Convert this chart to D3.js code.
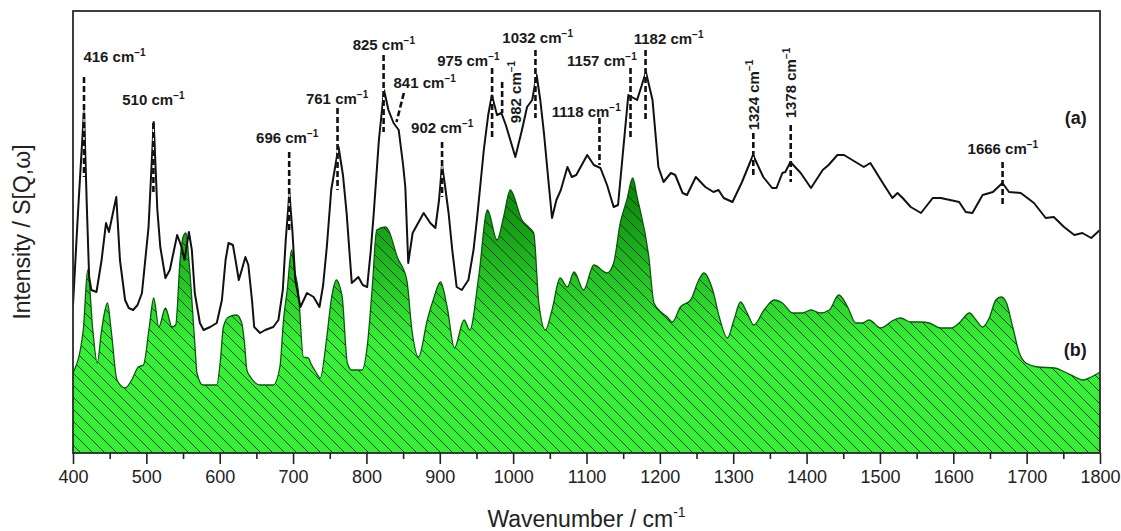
<!DOCTYPE html>
<html>
<head>
<meta charset="utf-8">
<script src="https://cdn.jsdelivr.net/npm/d3@7"></script>
<style>
  html, body { margin: 0; padding: 0; background: #fff; }
  svg { display: block; }
  text { font-family: "Liberation Sans", Arial, sans-serif; }
</style>
</head>
<body>
<svg id="chart" width="1121" height="531"></svg>
<script>
// ---------- DATA ----------
// Spectrum (a): wavenumber (cm-1) and intensity (a.u.)
const specAWn = [400,407,415,419,422,425,432,439,445,449,459,464,471,476,482,488,494,503,510,515,519,526,532,542,548,552,558,562,566,573,578,587,596,603,608,612,618,622,626,630,635,639,644,647,655,662,673,680,686,690,695,699,703,710,719,728,736,741,746,752,762,768,773,780,789,795,801,806,810,817,824,830,837,844,850,853,857,863,878,887,894,899,903,907,912,917,923,930,939,946,951,960,966,971,978,984,990,1003,1012,1019,1026,1032,1037,1042,1048,1053,1059,1065,1074,1080,1086,1101,1110,1119,1128,1137,1143,1150,1157,1169,1181,1190,1198,1205,1215,1221,1231,1237,1249,1262,1273,1280,1287,1299,1312,1327,1341,1353,1359,1367,1371,1378,1392,1406,1422,1430,1442,1451,1478,1487,1503,1517,1524,1531,1542,1556,1572,1583,1608,1617,1626,1640,1654,1667,1676,1692,1710,1726,1737,1751,1765,1776,1788,1800];
const specAInt = [1.48,2.43,3.43,2.43,1.76,1.63,1.61,1.93,2.30,2.21,2.56,1.93,1.53,1.45,1.43,1.48,1.60,2.26,3.31,2.43,2.06,1.75,1.83,2.18,2.06,1.93,2.21,2.03,1.60,1.30,1.23,1.26,1.30,1.53,1.93,2.10,2.08,1.91,1.73,1.83,1.96,1.88,1.53,1.26,1.20,1.23,1.26,1.33,1.63,2.13,2.60,2.23,1.73,1.46,1.60,1.56,1.46,1.68,2.06,2.63,3.06,2.78,2.40,1.70,1.76,1.68,1.66,2.03,2.40,3.13,3.63,3.43,3.30,3.23,2.88,2.66,1.90,2.20,2.40,2.30,2.25,2.53,2.88,2.68,2.40,2.03,1.66,1.63,1.73,2.03,2.36,3.03,3.38,3.58,3.38,3.40,3.28,2.96,3.23,3.46,3.53,3.78,3.53,3.20,2.73,2.35,2.53,2.63,2.86,2.76,2.78,2.98,2.88,2.85,2.68,2.46,2.48,3.03,3.58,3.53,3.81,3.53,2.86,2.71,2.80,2.78,2.60,2.58,2.76,2.66,2.61,2.63,2.55,2.51,2.71,2.98,2.76,2.65,2.65,2.80,2.81,2.91,2.80,2.65,2.83,2.88,2.98,2.98,2.86,2.90,2.71,2.55,2.60,2.55,2.46,2.40,2.55,2.55,2.51,2.41,2.40,2.58,2.61,2.70,2.61,2.60,2.50,2.35,2.36,2.26,2.18,2.20,2.15,2.23];

// Spectrum (b): wavenumber (cm-1) and intensity (a.u.)
const specBWn = [400,414,420,427,433,439,447,452,460,471,480,489,496,504,510,517,526,535,540,546,550,554,558,566,569,577,596,601,605,612,623,630,634,637,642,655,673,682,687,692,698,702,707,714,721,724,731,737,746,752,759,763,767,774,780,794,801,808,814,826,830,842,855,862,871,883,891,901,910,920,933,941,953,965,978,987,996,1012,1021,1028,1035,1044,1053,1064,1074,1083,1096,1110,1128,1137,1146,1155,1163,1169,1185,1192,1210,1217,1228,1242,1253,1260,1272,1281,1292,1301,1310,1319,1328,1342,1356,1367,1381,1394,1406,1419,1431,1444,1456,1467,1476,1485,1501,1519,1528,1542,1556,1567,1583,1597,1608,1622,1631,1640,1649,1658,1665,1672,1681,1690,1699,1715,1738,1752,1766,1777,1788,1800];
const specBInt = [0.80,1.23,1.83,1.23,0.90,1.23,1.50,1.23,0.73,0.65,0.73,0.86,0.88,1.26,1.55,1.26,1.45,1.26,1.28,1.93,2.16,2.20,1.93,1.10,0.80,0.68,0.68,0.93,1.26,1.36,1.38,1.30,1.08,0.83,0.76,0.68,0.68,0.86,1.33,1.63,2.03,1.83,1.63,0.96,0.95,0.90,0.81,0.75,1.16,1.53,1.73,1.68,1.56,0.90,0.83,0.83,1.06,1.66,2.23,2.26,2.23,1.96,1.73,1.23,0.96,1.33,1.53,1.71,1.46,1.05,1.33,1.23,1.76,2.43,2.13,2.36,2.63,2.33,2.26,2.20,1.50,1.23,1.43,1.75,1.66,1.81,1.63,1.88,1.80,1.90,2.30,2.53,2.75,2.56,1.96,1.50,1.36,1.31,1.46,1.53,1.73,1.80,1.63,1.36,1.15,1.33,1.51,1.40,1.28,1.43,1.53,1.50,1.40,1.40,1.43,1.40,1.43,1.58,1.46,1.30,1.30,1.33,1.25,1.33,1.35,1.31,1.31,1.30,1.25,1.25,1.30,1.40,1.33,1.26,1.35,1.53,1.56,1.51,1.26,1.00,0.90,0.86,0.85,0.81,0.76,0.73,0.76,0.81];

// Axis ticks
const xMajorTicks = [400,500,600,700,800,900,1000,1100,1200,1300,1400,1500,1600,1700,1800];
const xMinorTicks = [450,550,650,750,850,950,1050,1150,1250,1350,1450,1550,1650,1750];

// Peak annotations
const peakNames   = ["416","510","696","761","825","841","902","975","982","1032","1118","1157","1182","1324","1378","1666"];
const dashTopWn   = [415,509.6,694.7,760.6,823.4,851,903.1,971.3,985,1030.4,1117.7,1160,1180.5,1327.4,1378.4,1667.2];
const dashBotWn   = [415,509.6,694.7,760.6,823.4,841,903.1,971.3,985,1030.4,1117.7,1160,1180.5,1327.4,1378.4,1667.2];
const dashTopInt  = [3.76,3.30,3.01,3.45,3.98,3.60,3.11,3.85,3.71,4.03,3.35,3.85,4.03,3.20,3.28,2.91];
const dashBotInt  = [2.76,2.60,2.23,2.63,3.21,3.31,2.56,3.15,3.40,3.35,2.88,3.15,3.33,2.76,2.71,2.46];
const labelWn     = [456.6,509.6,692,760,823.7,879.4,903.3,939,1003,1033.4,1099.7,1120.9,1211.9,1327.9,1378.4,1667.6];
const labelInt    = [3.91,3.48,3.10,3.49,4.03,3.65,3.20,3.87,3.61,4.105,3.36,3.87,4.095,3.58,3.70,2.99];
const labelVertical = [false,false,false,false,false,false,false,false,true,false,false,false,false,true,true,false];

// Series tags
const seriesTags = ["(a)","(b)"];
const seriesTagWn = [1782,1782];
const seriesTagInt = [3.29,0.97];

// ---------- CHART ----------
const svg = d3.select("#chart");
const margin = {left:73, right:1100, top:11, bottom:453};
const x = d3.scaleLinear().domain([400,1800]).range([margin.left, margin.right]);
const y = d3.scaleLinear().domain([0,4.42]).range([margin.bottom, margin.top]);

const defs = svg.append("defs");
const grad = defs.append("linearGradient")
  .attr("id","greenGrad").attr("gradientUnits","userSpaceOnUse")
  .attr("x1",0).attr("x2",0).attr("y1",y(2.6)).attr("y2",y(1.1));
grad.append("stop").attr("offset","0").attr("stop-color","#0c880c");
grad.append("stop").attr("offset","1").attr("stop-color","#36f036");

const hs = 12;
const pat = defs.append("pattern")
  .attr("id","hatch").attr("patternUnits","userSpaceOnUse")
  .attr("width",hs).attr("height",hs);
pat.append("path")
  .attr("d",`M-2,-2 L${hs+2},${hs+2} M${-hs/2-2},${hs/2-2} L${hs/2+2},${1.5*hs+2} M${hs/2-2},${-hs/2-2} L${1.5*hs+2},${hs/2+2}`)
  .attr("stroke","#0d1a0d").attr("stroke-width",1).attr("fill","none").attr("opacity",0.85);

const clip = defs.append("clipPath").attr("id","plotClip");
clip.append("rect").attr("x",margin.left).attr("y",margin.top)
  .attr("width",margin.right-margin.left).attr("height",margin.bottom-margin.top);

const dataB = specBWn.map((w,i)=>({w, v:specBInt[i]}));
const dataA = specAWn.map((w,i)=>({w, v:specAInt[i]}));

const area = d3.area().x(d=>x(d.w)).y0(y(0)).y1(d=>y(d.v)).curve(d3.curveMonotoneX);
const lineB = d3.line().x(d=>x(d.w)).y(d=>y(d.v)).curve(d3.curveMonotoneX);
const lineA = d3.line().x(d=>x(d.w)).y(d=>y(d.v)).curve(d3.curveLinear);

const g = svg.append("g").attr("clip-path","url(#plotClip)");
g.append("path").datum(dataB).attr("d",area).attr("fill","url(#greenGrad)");
g.append("path").datum(dataB).attr("d",area).attr("fill","url(#hatch)");
g.append("path").datum(dataB).attr("d",lineB).attr("fill","none").attr("stroke","#0a5a0a").attr("stroke-width",1.3);
g.append("path").datum(dataA).attr("d",lineA).attr("fill","none").attr("stroke","#111").attr("stroke-width",2).attr("stroke-linejoin","round");

// dashed peak markers
const ann = svg.append("g");
peakNames.forEach((p,i)=>{
  ann.append("line")
    .attr("x1",x(dashTopWn[i])).attr("x2",x(dashBotWn[i]))
    .attr("y1",y(dashTopInt[i])).attr("y2",y(dashBotInt[i]))
    .attr("stroke","#fff").attr("stroke-width",1.2);
  ann.append("line")
    .attr("x1",x(dashTopWn[i])).attr("x2",x(dashBotWn[i]))
    .attr("y1",y(dashTopInt[i])).attr("y2",y(dashBotInt[i]))
    .attr("stroke","#111").attr("stroke-width",2.6).attr("stroke-dasharray","6,3");

  const lx = x(labelWn[i]), ly = y(labelInt[i]);
  const t = ann.append("text")
    .attr("font-size",15).attr("font-weight","bold").attr("fill","#1a1a1a")
    .attr("text-anchor","middle");
  if (labelVertical[i]) {
    t.attr("transform",`translate(${lx},${ly}) rotate(-90)`).attr("dy","0.35em");
  } else {
    t.attr("x",lx).attr("y",ly);
  }
  t.append("tspan").text(p + " cm");
  t.append("tspan").attr("font-size",10).attr("dy",-6).text("\u22121");
});

// series tags
seriesTags.forEach((s,i)=>{
  svg.append("text").attr("x",x(seriesTagWn[i])).attr("y",y(seriesTagInt[i]))
    .attr("text-anchor","end").attr("font-size",18).attr("font-weight","bold").attr("fill","#1a1a1a")
    .text(s);
});

// frame
svg.append("rect").attr("x",margin.left).attr("y",margin.top)
  .attr("width",margin.right-margin.left).attr("height",margin.bottom-margin.top)
  .attr("fill","none").attr("stroke","#2a2a2a").attr("stroke-width",1.8);

// x axis
const xAxis = d3.axisBottom(x).tickValues(xMajorTicks).tickFormat(d3.format("d"))
  .tickSize(11).tickSizeOuter(0).tickPadding(6);
const ax = svg.append("g").attr("transform",`translate(0,${margin.bottom})`).call(xAxis);
ax.select(".domain").remove();
ax.selectAll(".tick line").attr("stroke","#222").attr("stroke-width",1.6);
ax.selectAll(".tick text").attr("font-size",18).attr("fill","#222")
  .attr("font-family","'Liberation Sans', Arial, sans-serif");
const axMinor = d3.axisBottom(x).tickValues(xMinorTicks).tickSize(6).tickFormat("");
const am = svg.append("g").attr("transform",`translate(0,${margin.bottom})`).call(axMinor);
am.select(".domain").remove();
am.selectAll(".tick line").attr("stroke","#222").attr("stroke-width",1.6);

// axis titles
const xt = svg.append("text").attr("x",(margin.left+margin.right)/2).attr("y",527)
  .attr("text-anchor","middle").attr("font-size",23).attr("fill","#222");
xt.append("tspan").text("Wavenumber / cm");
xt.append("tspan").attr("font-size",14).attr("dy",-10).text("-1");

svg.append("text").attr("transform",`translate(30,${(margin.top+margin.bottom)/2}) rotate(-90)`)
  .attr("text-anchor","middle").attr("font-size",23).attr("fill","#222")
  .text("Intensity / S[Q,\u03C9]");
</script>
</body>
</html>
